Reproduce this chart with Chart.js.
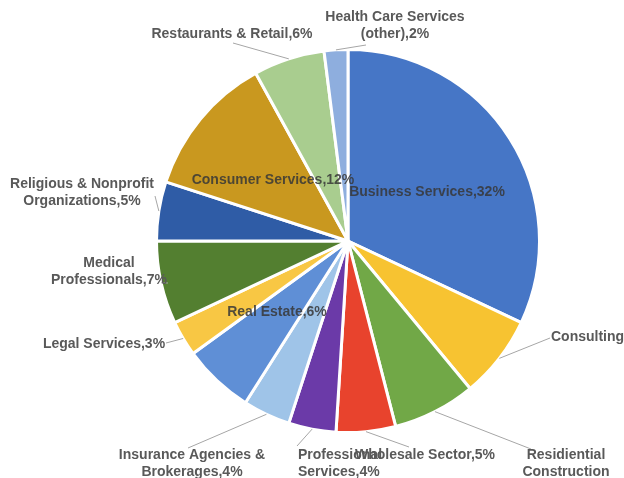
<!DOCTYPE html>
<html>
<head>
<meta charset="utf-8">
<script src="https://cdn.jsdelivr.net/npm/chart.js@4/dist/chart.umd.min.js"></script>
<style>
  html, body { margin: 0; padding: 0; background: #fff; }
  #wrap { width: 624px; height: 478px; }
</style>
</head>
<body>
<div id="wrap"><canvas id="sectors" width="624" height="478"></canvas></div>
<script>
// sectors, clockwise from 12 o'clock
var sectors = [
    'Business Services', 'Consulting', 'Residiential Construction', 'Wholesale Sector',
    'Professional Services', 'Insurance Agencies & Brokerages', 'Real Estate', 'Legal Services',
    'Medical Professionals', 'Religious & Nonprofit Organizations', 'Consumer Services',
    'Restaurants & Retail', 'Health Care Services (other)'
];
var shares = [32, 7, 7, 5, 4, 4, 6, 3, 7, 5, 12, 6, 2];

// label text per slice (lines), the trailing value comes from shares
var labelLines = [
    ['Business Services,'],
    ['Consulting'],
    ['Residiential', 'Construction'],
    ['Wholesale Sector,'],
    ['Professional', 'Services,'],
    ['Insurance Agencies &', 'Brokerages,'],
    ['Real Estate,'],
    ['Legal Services,'],
    ['Medical', 'Professionals,'],
    ['Religious & Nonprofit', 'Organizations,'],
    ['Consumer Services,'],
    ['Restaurants & Retail,'],
    ['Health Care Services', '(other),']
];
var showValue = [true, false, false, true, true, true, true, true, true, true, true, true, true];

var colors = [
    '#4676c6', '#f7c331', '#71a847', '#e8432d', '#6b3aa8', '#9fc4e8', '#5f8fd6',
    '#f8c744', '#537f30', '#2f5ca6', '#c9981f', '#a9cd8f', '#8eaede'
];

// where each label sits: text x, first baseline y, alignment, leader end (null = inside slice)
var labelLayout = [
    { x: 427, y: 196, align: 'center', lead: null },
    { x: 551, y: 341, align: 'left', lead: [550, 338] },
    { x: 566, y: 459, align: 'center', lead: [531, 449] },
    { x: 425, y: 459, align: 'center', lead: [409, 447] },
    { x: 298, y: 459, align: 'left', lead: [297, 446] },
    { x: 192, y: 459, align: 'center', lead: [188, 448] },
    { x: 277, y: 316, align: 'center', lead: null },
    { x: 104, y: 348, align: 'center', lead: [166, 343] },
    { x: 109, y: 267, align: 'center', lead: [168, 283] },
    { x: 82, y: 188, align: 'center', lead: [155, 196] },
    { x: 273, y: 184, align: 'center', lead: null },
    { x: 232, y: 38, align: 'center', lead: [233, 43] },
    { x: 395, y: 21, align: 'center', lead: [366, 45] }
];

function $each(list, fn) {
    for (var i = 0; i < list.length; i++) fn(i, list[i]);
}

var sliceLabels = {
    id: 'sliceLabels',
    afterDatasetsDraw: function (chart) {
        var ctx = chart.ctx;
        var arcs = chart.getDatasetMeta(0).data;
        ctx.save();
        ctx.font = 'bold 14px "Liberation Sans", Arial, sans-serif';
        ctx.textBaseline = 'alphabetic';
        $each(arcs, function (i, arc) {
            var pos = labelLayout[i];
            var lines = labelLines[i].slice();
            if (showValue[i]) {
                lines[lines.length - 1] += shares[i] + '%';
            }
            if (pos.lead) {
                var p = arc.getProps(['x', 'y', 'startAngle', 'endAngle', 'outerRadius'], true);
                var mid = (p.startAngle + p.endAngle) / 2;
                ctx.beginPath();
                ctx.moveTo(p.x + Math.cos(mid) * p.outerRadius, p.y + Math.sin(mid) * p.outerRadius);
                ctx.lineTo(pos.lead[0], pos.lead[1]);
                ctx.strokeStyle = '#a6a6a6';
                ctx.lineWidth = 1;
                ctx.stroke();
                ctx.fillStyle = '#595959';
            } else {
                ctx.fillStyle = 'rgba(55,55,55,0.85)';
            }
            ctx.textAlign = pos.align;
            for (var k = 0; k < lines.length; k++) {
                ctx.fillText(lines[k], pos.x, pos.y + k * 17);
            }
        });
        ctx.restore();
    }
};

var ctxp = document.getElementById('sectors');
var sectorChart = new Chart(ctxp, {
    type: 'pie',
    data: {
        labels: sectors,
        datasets: [{
            data: shares,
            backgroundColor: colors,
            borderColor: '#ffffff',
            borderWidth: 3
        }]
    },
    options: {
        responsive: false,
        animation: false,
        layout: { padding: { top: 48, bottom: 44, left: 155, right: 83 } },
        plugins: {
            legend: { display: false },
            tooltip: { enabled: false }
        }
    },
    plugins: [sliceLabels]
});
</script>
</body>
</html>
